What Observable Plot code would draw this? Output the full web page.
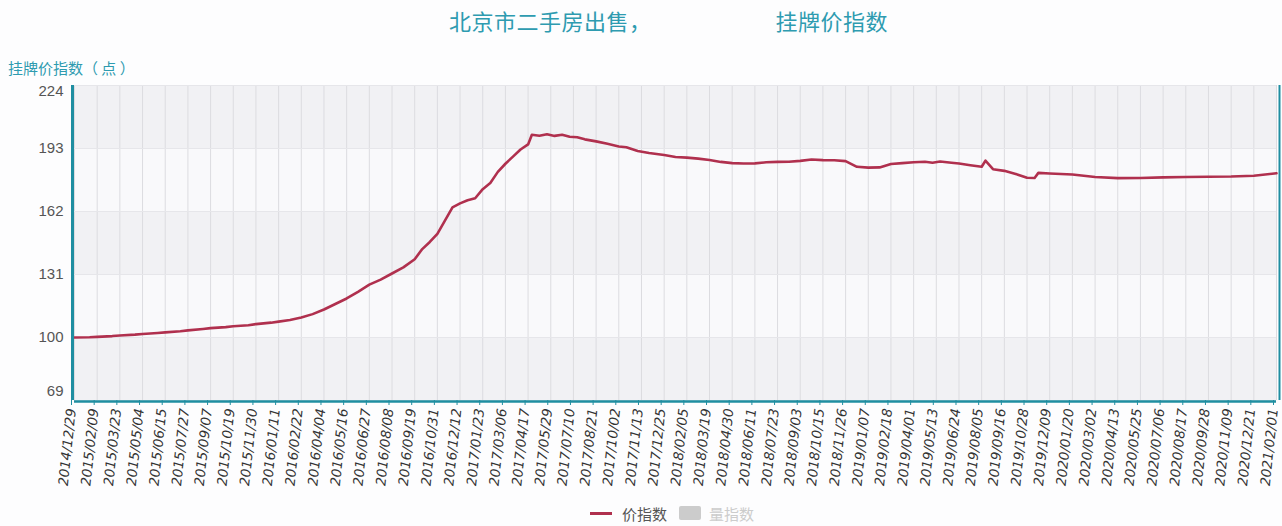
<!DOCTYPE html>
<html>
<head>
<meta charset="utf-8">
<script src="https://cdn.jsdelivr.net/npm/d3@7"></script>
<script src="https://cdn.jsdelivr.net/npm/@observablehq/plot@0.6"></script>
<style>
  html, body { margin: 0; padding: 0; background: #fdfdfe; }
  #wrap { position: relative; width: 1282px; height: 526px; overflow: hidden; font-family: "Noto Sans CJK SC", "Noto Sans", sans-serif; }
  #title { position: absolute; left: 449px; top: 4px; font-size: 22px; color: #2e9bb0; white-space: pre; letter-spacing: 0.5px; }
  #ylabel { position: absolute; left: 8px; top: 57px; font-size: 15px; color: #2e9bb0; white-space: pre; }
  #legend { position: absolute; left: 590px; top: 502px; height: 22px; display: flex; align-items: center; font-size: 15px; }
  #chart { position: absolute; left: 0; top: 0; }
</style>
</head>
<body>
<div id="wrap">
  <div id="chart"></div>
  <div id="title"></div>
  <div id="ylabel"></div>
  <div id="legend"></div>
</div>
<script>
const titleText = "北京市二手房出售，　　　　　　挂牌价指数";
const yLabelText = "挂牌价指数（ 点 ）";
const seriesName = "价指数";
const seriesName2 = "量指数";

const dates = [
  "2014-12-29","2015-01-26","2015-02-09","2015-03-09","2015-03-23","2015-04-20","2015-05-04","2015-06-01",
  "2015-06-15","2015-07-13","2015-07-27","2015-08-24","2015-09-07","2015-10-05","2015-10-19","2015-11-16",
  "2015-11-30","2015-12-28","2016-01-11","2016-02-01","2016-02-22","2016-03-14","2016-04-04","2016-04-25",
  "2016-05-16","2016-06-06","2016-06-27","2016-07-18","2016-08-08","2016-08-29","2016-09-19","2016-10-03",
  "2016-10-17","2016-10-31","2016-11-14","2016-11-28","2016-12-12","2016-12-26","2017-01-09","2017-01-23",
  "2017-02-06","2017-02-20","2017-03-06","2017-03-20","2017-04-03","2017-04-17","2017-04-24","2017-05-08",
  "2017-05-22","2017-06-05","2017-06-19","2017-07-03","2017-07-17","2017-07-31","2017-08-21","2017-09-11",
  "2017-10-02","2017-10-16","2017-11-06","2017-11-27","2017-12-25","2018-01-15","2018-02-05","2018-02-26",
  "2018-03-19","2018-04-09","2018-04-30","2018-05-21","2018-06-11","2018-07-02","2018-07-23","2018-08-13",
  "2018-09-03","2018-09-24","2018-10-15","2018-11-05","2018-11-26","2018-12-17","2019-01-07","2019-01-28",
  "2019-02-18","2019-03-11","2019-04-01","2019-04-22","2019-05-06","2019-05-20","2019-06-10","2019-06-24",
  "2019-07-15","2019-08-05","2019-08-12","2019-08-26","2019-09-16","2019-10-07","2019-10-28","2019-11-11",
  "2019-11-18","2019-12-09","2020-01-20","2020-03-02","2020-04-13","2020-05-25","2020-07-06","2020-08-17",
  "2020-09-28","2020-11-09","2020-12-21","2021-02-01"
];
const values = [
  100.0,100.1,100.3,100.7,101.0,101.4,101.7,102.2,
  102.5,103.1,103.5,104.2,104.6,105.1,105.5,106.0,
  106.6,107.3,107.8,108.6,109.8,111.5,113.8,116.5,
  119.2,122.5,126.0,128.5,131.5,134.5,138.5,143.5,
  147.0,151.0,157.5,164.0,166.0,167.5,168.5,173.0,
  176.0,181.5,185.5,189.0,192.5,195.0,199.8,199.3,
  200.0,199.2,199.8,198.8,198.5,197.5,196.5,195.3,
  194.0,193.6,191.8,190.8,189.8,188.8,188.5,188.0,
  187.3,186.4,185.8,185.6,185.7,186.2,186.4,186.5,
  186.9,187.6,187.3,187.2,186.8,184.0,183.6,183.7,
  185.4,185.8,186.2,186.5,186.0,186.6,186.0,185.6,
  184.8,184.0,187.0,182.8,182.0,180.5,178.6,178.5,
  181.0,180.7,180.2,179.0,178.4,178.5,178.8,179.0,
  179.1,179.2,179.6,180.8
];

const xTickLabels = [
  "2014/12/29","2015/02/09","2015/03/23","2015/05/04","2015/06/15","2015/07/27","2015/09/07","2015/10/19",
  "2015/11/30","2016/01/11","2016/02/22","2016/04/04","2016/05/16","2016/06/27","2016/08/08","2016/09/19",
  "2016/10/31","2016/12/12","2017/01/23","2017/03/06","2017/04/17","2017/05/29","2017/07/10","2017/08/21",
  "2017/10/02","2017/11/13","2017/12/25","2018/02/05","2018/03/19","2018/04/30","2018/06/11","2018/07/23",
  "2018/09/03","2018/10/15","2018/11/26","2019/01/07","2019/02/18","2019/04/01","2019/05/13","2019/06/24",
  "2019/08/05","2019/09/16","2019/10/28","2019/12/09","2020/01/20","2020/03/02","2020/04/13","2020/05/25",
  "2020/07/06","2020/08/17","2020/09/28","2020/11/09","2020/12/21","2021/02/01"
];
const yTicks = [69, 100, 131, 162, 193, 224];

const parse = d3.utcParse("%Y-%m-%d");
const parseTick = d3.utcParse("%Y/%m/%d");
const data = dates.map((d, i) => ({date: parse(d), value: values[i]}));
const tickDates = xTickLabels.map(parseTick);
const bands = yTicks.slice(0, -1).map((t, i) => ({y1: t, y2: yTicks[i + 1], fill: i % 2 === 0 ? "#f1f1f4" : "#f9f9fb"}));

const teal = "#1f8ea1";
const xDomain = [tickDates[0], tickDates[tickDates.length - 1]];
const yAxisStyle = {tickSize: 0, tickPadding: 11, label: null, fontSize: 15, fill: "#555",
  fontFamily: "Liberation Sans, sans-serif"};

const chart = Plot.plot({
  width: 1282,
  height: 526,
  marginLeft: 74,
  marginRight: 6,
  marginTop: 85,
  marginBottom: 126,
  style: {background: "transparent", fontFamily: "DejaVu Sans, sans-serif"},
  x: {type: "utc", domain: xDomain},
  y: {domain: [69, 224]},
  marks: [
    Plot.rectY(bands, {x1: xDomain[0], x2: xDomain[1], y1: "y1", y2: "y2", fill: "fill"}),
    Plot.ruleX(tickDates, {stroke: "#dcdce0", strokeWidth: 1}),
    Plot.ruleY(yTicks, {stroke: "#e6e6ea", strokeWidth: 1}),
    Plot.axisY({...yAxisStyle, ticks: yTicks.slice(1, -1)}),
    Plot.axisY({...yAxisStyle, ticks: yTicks.slice(-1), dy: 6}),
    Plot.axisY({...yAxisStyle, ticks: yTicks.slice(0, 1), dy: -9}),
    Plot.axisX({ticks: tickDates, tickFormat: d3.utcFormat("%Y/%m/%d"), tickRotate: -84, tickSize: 5,
      tickPadding: 3, dx: -3, stroke: teal, label: null, fontSize: 13.5, fill: "#333", fontStyle: "italic"}),
    Plot.line(data, {x: "date", y: "value", stroke: "#b0304e", strokeWidth: 2.6, curve: "linear"}),
    Plot.ruleX([xDomain[0]], {y1: 69, y2: 224, stroke: teal, strokeWidth: 3, dx: -2}),
    Plot.ruleX([xDomain[1]], {y1: 69, y2: 224, stroke: teal, strokeWidth: 2, dx: 3}),
    Plot.ruleY([69], {x1: xDomain[0], x2: xDomain[1], stroke: teal, strokeWidth: 2.5, dy: 1})
  ]
});
document.getElementById("chart").appendChild(chart);

document.getElementById("title").textContent = titleText;
document.getElementById("ylabel").textContent = yLabelText;
document.getElementById("legend").innerHTML =
  `<span style="display:inline-block;width:22px;height:3px;background:#b0304e;margin-right:10px"></span>` +
  `<span style="color:#555">${seriesName}</span>` +
  `<span style="display:inline-block;width:22px;height:14px;background:#cccccc;border-radius:2px;margin:0 8px 0 12px"></span>` +
  `<span style="color:#cccccc">${seriesName2}</span>`;
</script>
</body>
</html>
